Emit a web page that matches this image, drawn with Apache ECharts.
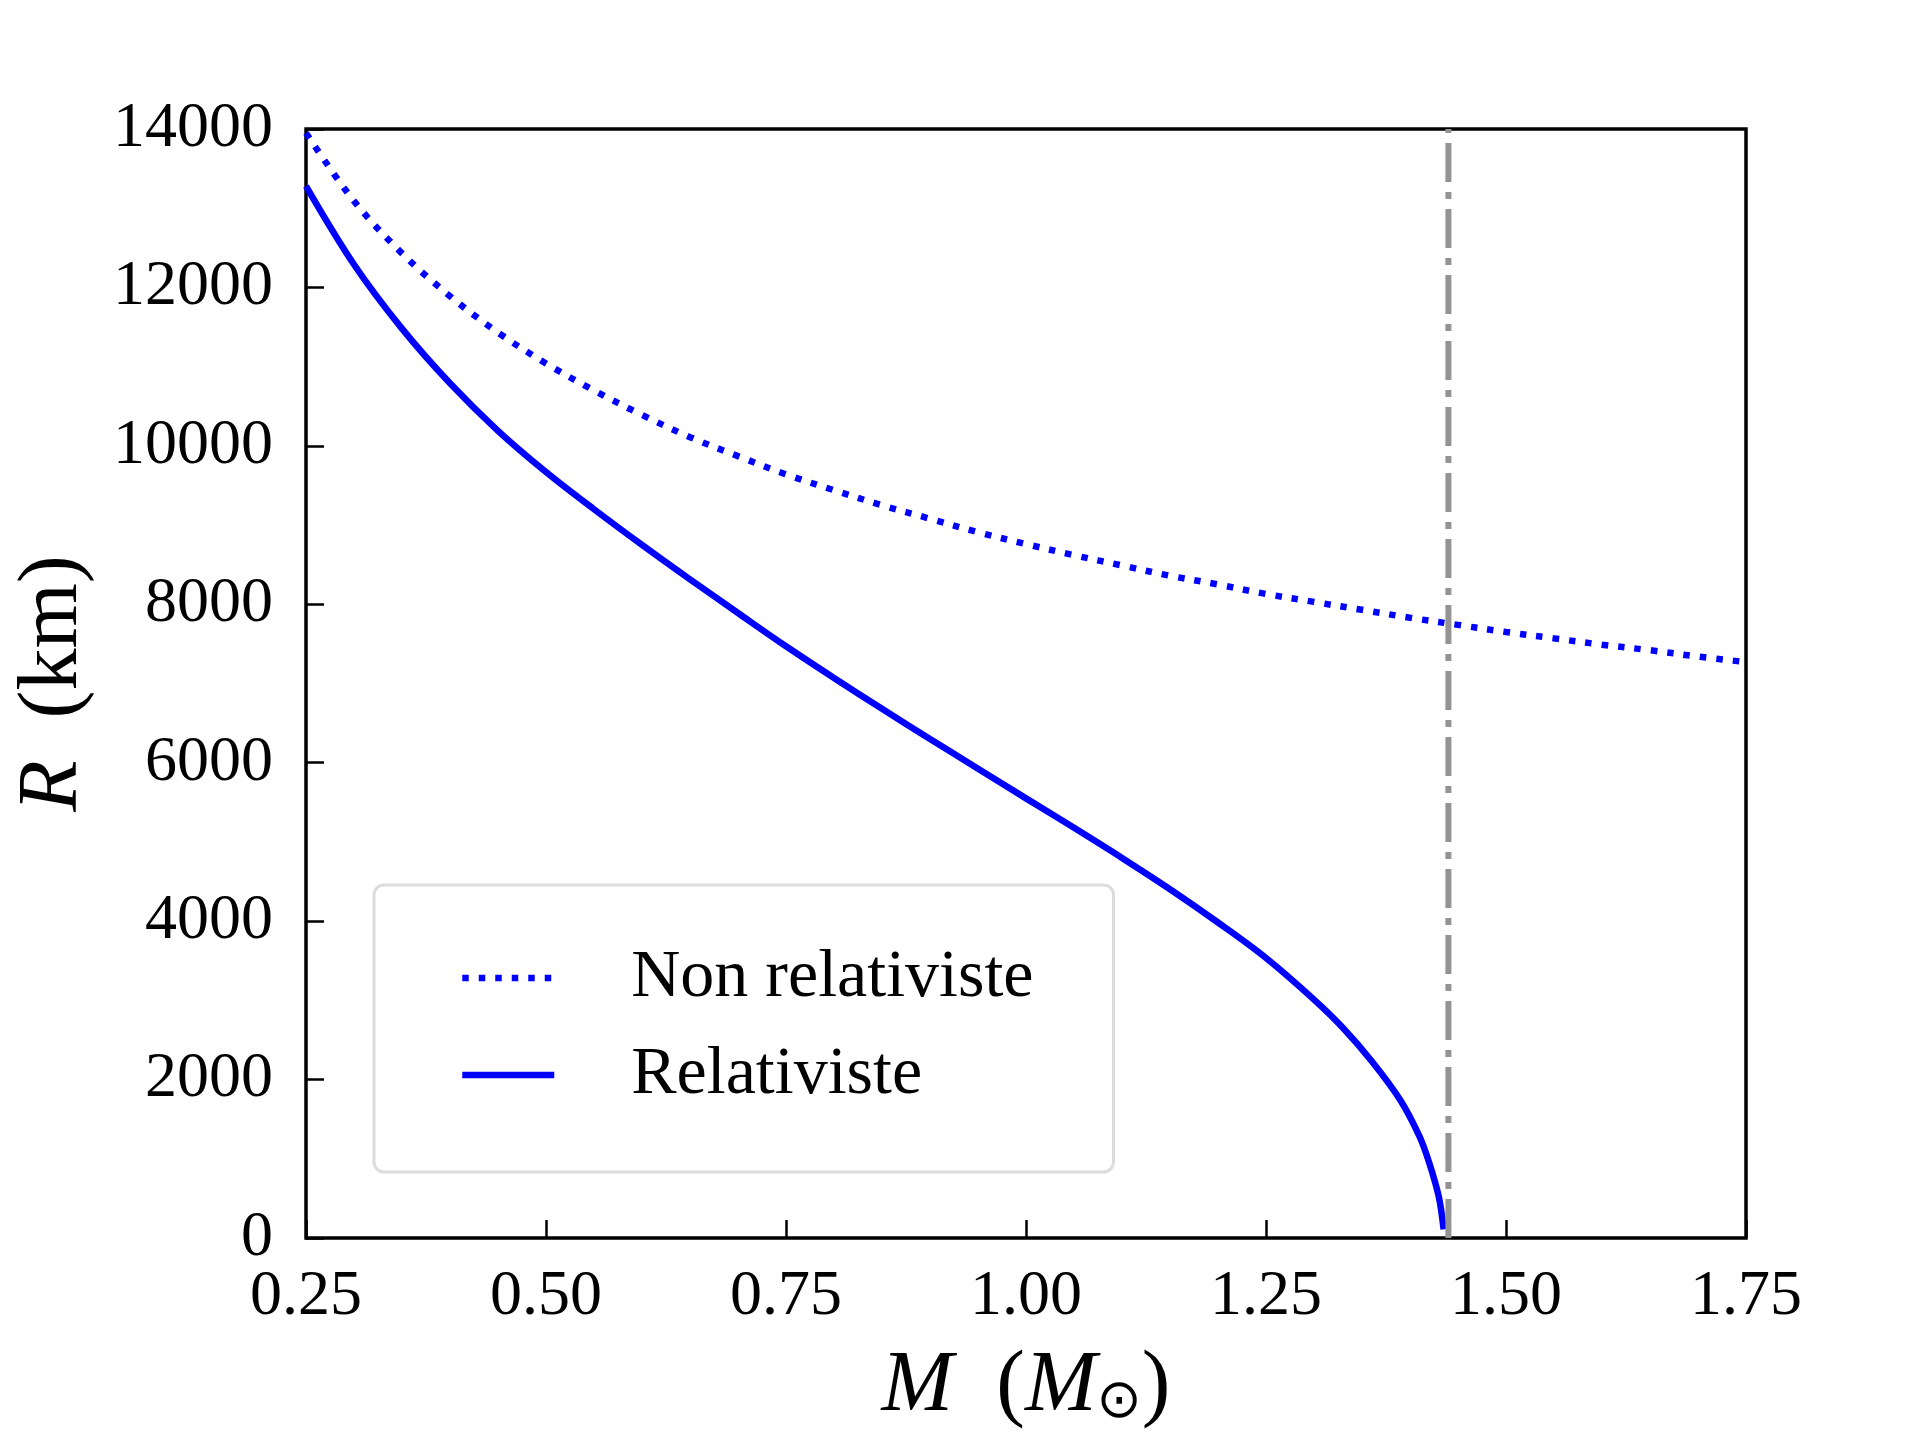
<!DOCTYPE html>
<html>
<head>
<meta charset="utf-8">
<script src="https://cdn.jsdelivr.net/npm/echarts@6/dist/echarts.min.js"></script>
<style>
html,body{margin:0;padding:0;background:#fff;}
#chart{width:1920px;height:1440px;}
</style>
</head>
<body>
<div id="chart"></div>
<script>
// ---- data ----
const massNonRel = [0.25,0.30,0.35,0.40,0.45,0.50,0.55,0.60,0.65,0.70,0.75,0.80,0.85,0.90,0.95,1.00,1.05,1.10,1.15,1.20,1.25,1.30,1.35,1.40,1.45,1.50,1.55,1.60,1.65,1.70,1.75];
const radiusNonRel = [13950,13090,12430,11890,11430,11040,10700,10390,10110,9870,9640,9440,9250,9080,8910,8760,8620,8490,8360,8250,8130,8030,7930,7830,7740,7650,7570,7490,7420,7340,7270];

const massRel = [0.25,0.30,0.35,0.40,0.45,0.50,0.55,0.60,0.65,0.70,0.75,0.80,0.85,0.90,0.95,1.00,1.05,1.10,1.15,1.20,1.25,1.30,1.33,1.36,1.39,1.41,1.42,1.43,1.435];
const radiusRel = [13280,12290,11480,10790,10190,9670,9200,8750,8315,7890,7470,7070,6680,6300,5925,5550,5178,4798,4403,3983,3535,3010,2655,2235,1740,1280,950,520,110];

const chandraLimit = 1.44;
const limitRange = [0, 14000];

const xTicks = {min:0.25, max:1.75, interval:0.25};
const yTicks = {min:0, max:14000, interval:2000};

const seriesNames = ['Non relativiste', 'Relativiste'];

// ---- build chart ----
const zip = (a, b) => a.map((v, i) => [v, b[i]]);
const FONT = "'Liberation Serif', 'DejaVu Serif', serif";
const BLUE = '#0000ff';
const LW = 6.5;

const chart = echarts.init(document.getElementById('chart'), null, {renderer:'canvas'});
chart.setOption({
  backgroundColor:'#ffffff',
  animation:false,
  grid:{left:306, right:174, top:129, bottom:202, show:true, borderColor:'#000', borderWidth:3.5, backgroundColor:'transparent'},
  legend:{
    data:seriesNames,
    orient:'vertical',
    left:374, top:885,
    itemWidth:92, itemHeight:20, itemGap:29,
    padding:[59,80,63,85],
    backgroundColor:'#ffffff',
    borderColor:'#dcdcdc', borderWidth:3, borderRadius:10,
    itemStyle:{color:'rgba(0,0,0,0)', opacity:0, borderWidth:0},
    lineStyle:{width:LW},
    textStyle:{fontFamily:FONT, fontSize:68, color:'#000', lineHeight:64, padding:[0,0,0,72]},
    selectedMode:false
  },
  xAxis:{
    type:'value', min:xTicks.min, max:xTicks.max, interval:xTicks.interval,
    axisLine:{show:false},
    axisTick:{show:true, inside:true, length:18, lineStyle:{color:'#000', width:2.5}},
    splitLine:{show:false},
    axisLabel:{margin:27, fontFamily:FONT, fontSize:64, color:'#000', lineHeight:64, formatter:v => v.toFixed(2)},
    name:'{i|M}  ({i|M}{s|⊙})',
    nameLocation:'middle', nameGap:106,
    nameTextStyle:{fontFamily:FONT, fontSize:86, color:'#000', lineHeight:86,
      rich:{
        i:{fontFamily:FONT, fontStyle:'italic', fontSize:86, lineHeight:86, color:'#000'},
        s:{fontFamily:"'DejaVu Sans', sans-serif", fontSize:54, lineHeight:40, verticalAlign:'bottom', color:'#000'}
      }}
  },
  yAxis:{
    type:'value', min:yTicks.min, max:yTicks.max, interval:yTicks.interval,
    axisLine:{show:false},
    axisTick:{show:true, inside:true, length:18, lineStyle:{color:'#000', width:2.5}},
    splitLine:{show:false},
    axisLabel:{margin:33, fontFamily:FONT, fontSize:64, color:'#000', lineHeight:64, padding:[12,0,0,0], formatter:v => String(v)},
    name:'{i|R}  (km)',
    nameLocation:'middle', nameRotate:90, nameGap:210,
    nameTextStyle:{fontFamily:FONT, fontSize:84, color:'#000', lineHeight:84,
      rich:{ i:{fontFamily:FONT, fontStyle:'italic', fontSize:84, lineHeight:84, color:'#000'} }}
  },
  series:[
    {
      name:seriesNames[0], type:'line', data:zip(massNonRel, radiusNonRel),
      symbol:'none', smooth:0.35,
      lineStyle:{color:BLUE, width:LW, type:[6.5,10], cap:'butt'},
      itemStyle:{color:BLUE}, z:3
    },
    {
      name:seriesNames[1], type:'line', data:zip(massRel, radiusRel),
      symbol:'none', smooth:0.35,
      lineStyle:{color:BLUE, width:LW, type:'solid'},
      itemStyle:{color:BLUE}, z:3
    },
    {
      name:'limit', type:'line', data:limitRange.map(r => [chandraLimit, r]),
      symbol:'none',
      lineStyle:{color:'#939393', width:6, type:[39,10,7,10], cap:'butt'},
      itemStyle:{color:'#939393'}, z:4, silent:true
    }
  ]
});
</script>
</body>
</html>
